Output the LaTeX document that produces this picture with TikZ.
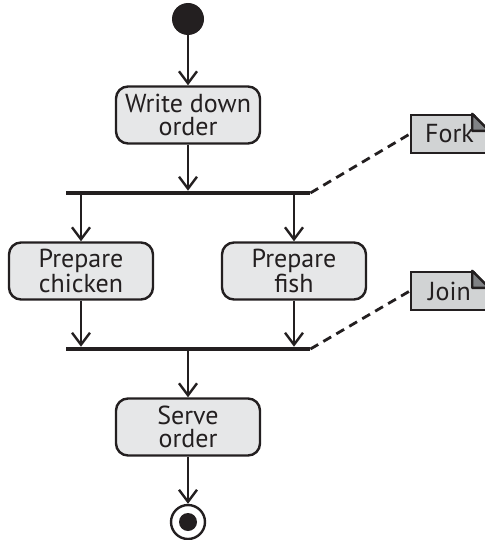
\documentclass[tikz,border=0pt]{standalone}
\usepackage{fontspec}
\setmainfont{PT Sans}
\usetikzlibrary{arrows.meta,positioning}
\definecolor{actgray}{HTML}{E6E7E8}
\definecolor{notegray}{HTML}{D1D3D4}
\definecolor{foldgray}{HTML}{808285}
\definecolor{umlblack}{HTML}{231F20}

\begin{document}
\begin{tikzpicture}[x=0.5pt, y=-0.5pt,
        every node/.style={font=\fontsize{13}{11.5}\selectfont, text=umlblack},
        action/.style={draw=umlblack, rounded corners=6pt, fill=actgray, line width=1.2pt,
          minimum width=72pt, minimum height=28.5pt, align=center, inner sep=2pt},
        bar/.style={fill=umlblack, minimum width=122pt, minimum height=1.9pt, inner sep=0pt},
        note/.style={draw=umlblack, fill=notegray, line width=1.2pt,
          minimum width=38.5pt, minimum height=19pt, inner sep=0pt},
        initial/.style={circle, fill=umlblack, minimum size=16pt, inner sep=0pt},
        final/.style={circle, draw=umlblack, fill=white, line width=1.2pt, minimum size=17pt, inner sep=0pt,
          path picture={\fill[umlblack] (path picture bounding box.center) circle (4.5pt);}},
        arrow/.style={-{Straight Barb[length=6pt,width=9pt]}, line width=1.2pt, draw=umlblack},
        link/.style={dash pattern=on 4.5pt off 3pt, line width=1.4pt, draw=umlblack}]

        \useasboundingbox (0,0) rectangle (484,540);

        %%% Main flow
        % Start point
        \node[initial] (start) at (188,19) {};

        % First action
        \node[action] (writeOrder) at (188,115) {Write down\\order};

        % Fork bar: two actions in parallel
        \node[bar] (forkBar) at (188,193) {};
        \node[action] (prepChicken) at (81,271) {Prepare\\chicken};
        \node[action] (prepFish) at (294,271) {Prepare\\fish};

        % Join bar: both actions done
        \node[bar] (joinBar) at (188,349) {};

        % Last action and end point
        \node[action] (serveOrder) at (188,427) {Serve\\order};
        \node[final] (finish) at (188,522) {};

        %%% Notes on the right
        \node[note] (forkNote) at (449.5,134) {Fork};
        \node[note] (joinNote) at (449.5,291) {Join};

        % Folded corner of each note
        \foreach \n in {forkNote, joinNote} {
          \fill[white] ([xshift=-8.5pt,yshift=1pt]\n.north east) -- ([xshift=1pt,yshift=1pt]\n.north east)
            -- ([xshift=1pt,yshift=-8.5pt]\n.north east) -- cycle;
          \filldraw[fill=foldgray, draw=umlblack, line width=1.2pt, line join=round]
            ([xshift=-8.5pt]\n.north east) -- ([xshift=-8.5pt,yshift=-8.5pt]\n.north east)
            -- ([yshift=-8.5pt]\n.north east) -- cycle;
        }

        %%% Arrows
        \draw[arrow] (start) -- (writeOrder);
        \draw[arrow] (writeOrder) -- (forkBar);
        \draw[arrow] (forkBar.south -| prepChicken) -- (prepChicken);
        \draw[arrow] (forkBar.south -| prepFish) -- (prepFish);
        \draw[arrow] (prepChicken) -- (prepChicken |- joinBar.north);
        \draw[arrow] (prepFish) -- (prepFish |- joinBar.north);
        \draw[arrow] (joinBar) -- (serveOrder);
        \draw[arrow] (serveOrder) -- (finish);

        %%% Dashed links to the notes
        \draw[link] (forkBar.east) -- (forkNote.west);
        \draw[link] (joinBar.east) -- (joinNote.west);
\end{tikzpicture}
\end{document}
